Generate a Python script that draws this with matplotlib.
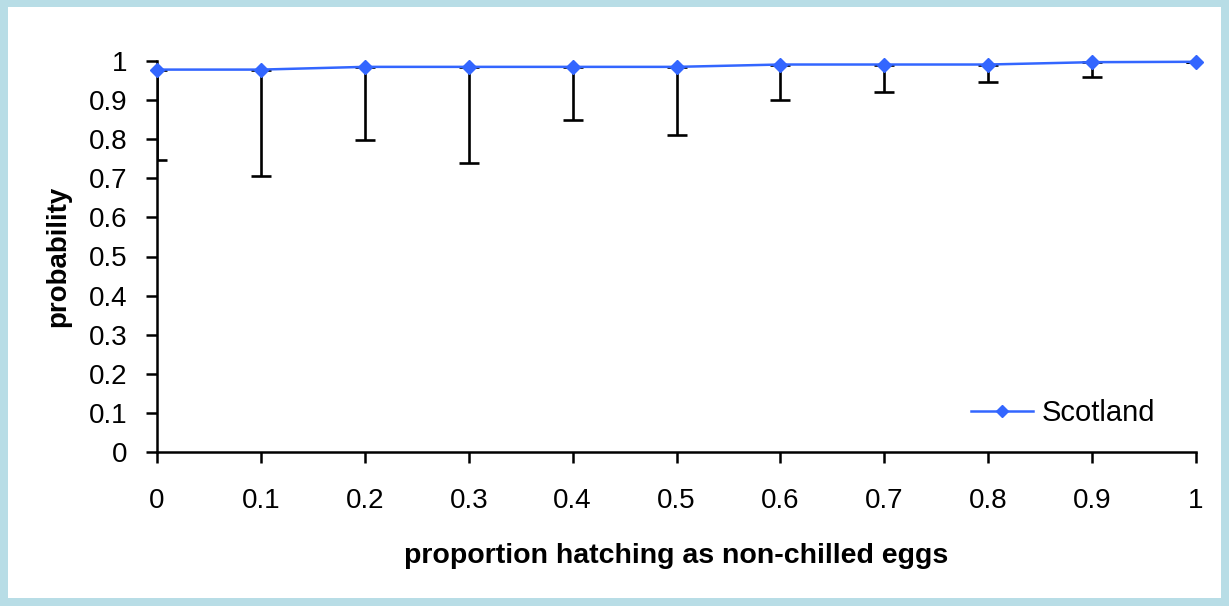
import matplotlib.pyplot as plt
from matplotlib.patches import Rectangle

plt.rcParams['font.family'] = ['Liberation Sans', 'DejaVu Sans']

# data
proportion = [0, 0.1, 0.2, 0.3, 0.4, 0.5, 0.6, 0.7, 0.8, 0.9, 1.0]
probability = [0.978, 0.978, 0.985, 0.985, 0.985, 0.985, 0.991, 0.991, 0.991, 0.997, 0.998]
lower_bound = [0.747, 0.706, 0.798, 0.739, 0.849, 0.811, 0.900, 0.921, 0.946, 0.959, 0.998]

yerr_low = [p - l for p, l in zip(probability, lower_bound)]
yerr_high = [0] * len(probability)

fig = plt.figure(figsize=(12.29, 6.06), dpi=100)
fig.patch.set_facecolor('#B8DDE6')
fig.patches.append(Rectangle((8 / 1229, 8 / 606), 1 - 16 / 1229, 1 - 15 / 606,
                             transform=fig.transFigure, facecolor='white',
                             edgecolor='none', zorder=-10))

ax = fig.add_axes([157 / 1229, 1 - 452 / 606, (1196 - 157) / 1229, (452 - 61) / 606])
ax.set_facecolor('none')

ax.errorbar(proportion, probability, yerr=[yerr_low, yerr_high], fmt='none',
            ecolor='black', elinewidth=1.9, capsize=7, capthick=1.9, zorder=2)
ax.plot(proportion, probability, color='#3366FF', marker='D', markersize=7.5,
        linewidth=1.8, label='Scotland', zorder=3, clip_on=False)

ax.set_xlim(0, 1)
ax.set_ylim(0, 1)
ax.set_xticks([0, 0.1, 0.2, 0.3, 0.4, 0.5, 0.6, 0.7, 0.8, 0.9, 1])
ax.set_xticklabels(['0', '0.1', '0.2', '0.3', '0.4', '0.5', '0.6', '0.7', '0.8', '0.9', '1'])
ax.set_yticks([0, 0.1, 0.2, 0.3, 0.4, 0.5, 0.6, 0.7, 0.8, 0.9, 1])
ax.set_yticklabels(['0', '0.1', '0.2', '0.3', '0.4', '0.5', '0.6', '0.7', '0.8', '0.9', '1'])

for s in ['top', 'right']:
    ax.spines[s].set_visible(False)
for s in ['left', 'bottom']:
    ax.spines[s].set_linewidth(1.8)

ax.tick_params(axis='both', direction='out', length=8, width=1.8, labelsize=20)
ax.tick_params(axis='y', pad=13)
ax.tick_params(axis='x', pad=18)

ax.set_xlabel('proportion hatching as non-chilled eggs', fontsize=20.5, fontweight='bold', labelpad=21)
ax.set_ylabel('probability', fontsize=20, fontweight='bold', labelpad=13)

ax.legend(loc='center right', bbox_to_anchor=(0.9605, 0.1), frameon=False, fontsize=21,
          handlelength=2.1, handletextpad=0.3, borderaxespad=0, borderpad=0, markerscale=0.8)

plt.savefig('out.png', dpi=100, facecolor=fig.get_facecolor())
